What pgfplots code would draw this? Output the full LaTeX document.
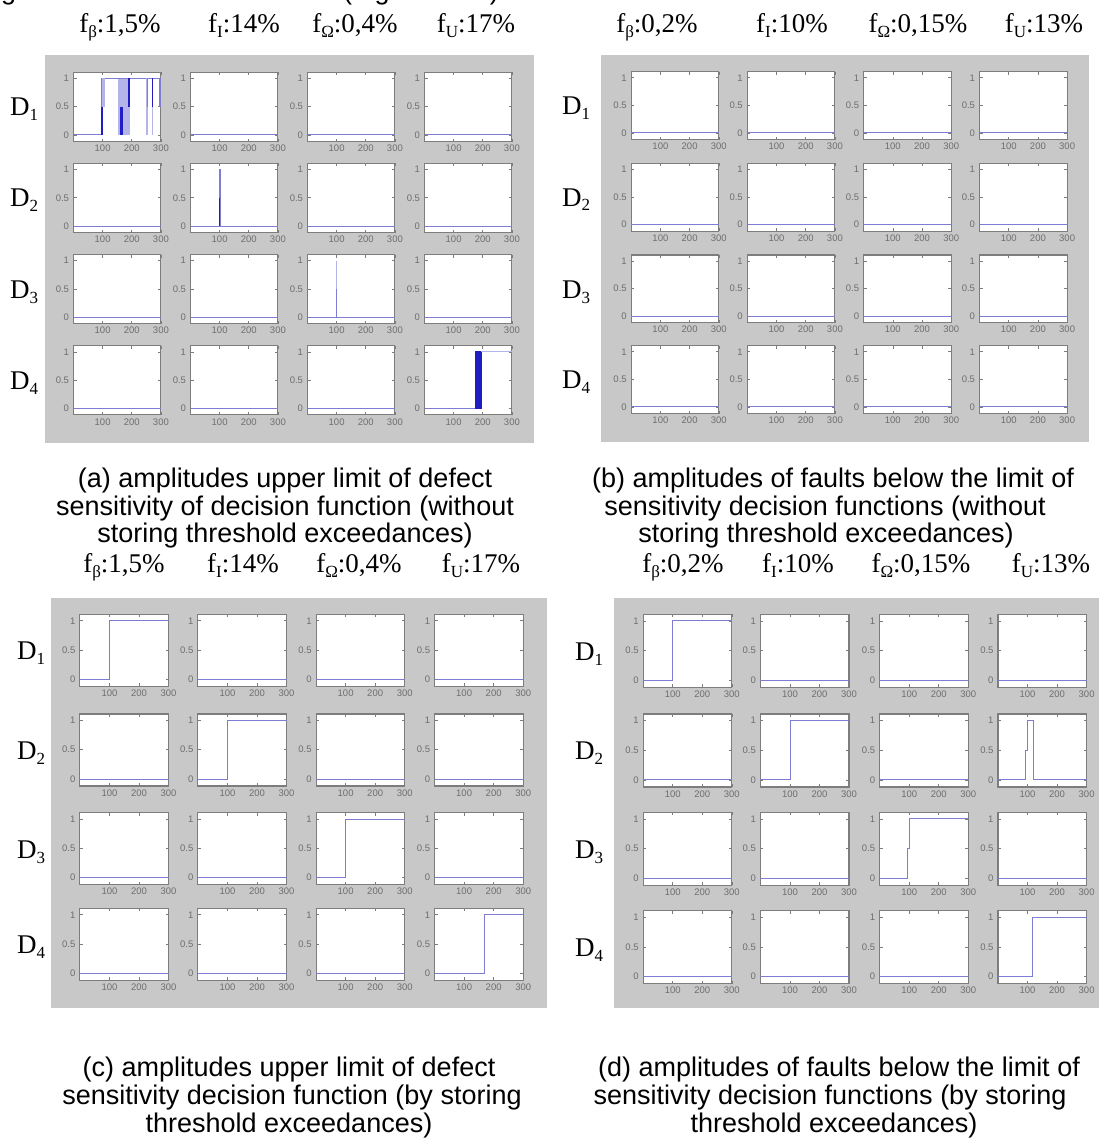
\documentclass[border=0pt]{standalone}
\usepackage{fontspec}
\setmainfont{Liberation Sans}
\newfontfamily\serif{Liberation Serif}
\usepackage{pgfplots}
\pgfplotsset{compat=1.18}

\definecolor{figgray}{RGB}{200,200,200}
\definecolor{frame}{RGB}{125,125,125}
\definecolor{ticklab}{RGB}{110,110,110}
\definecolor{sig}{RGB}{125,125,212}
\definecolor{sigl}{RGB}{180,180,232}
\definecolor{sigd}{RGB}{30,30,195}

\pgfplotsset{cellax/.style={anchor=north west, scale only axis,
  xmin=0, xmax=300, ymin=-0.12, ymax=1.11,
  xtick={100,200,300}, xticklabels={100,200,300},
  ytick={0,0.5,1}, yticklabels={0,0.5,1},
  tick align=inside, major tick length=3pt,
  axis line style={draw=frame, line width=1.1pt},
  every tick/.style={draw=frame, line width=0.6pt},
  tick label style={font=\fontsize{9.5}{9.5}\selectfont, text=ticklab},
  xticklabel style={yshift=0pt}, yticklabel style={xshift=-1pt},
  axis background/.style={fill=white},
  unbounded coords=jump}}

\newcommand\cell[5]{\begin{axis}[cellax, at={(#1pt,-#2pt)}, width=#3pt, height=#4pt]#5\end{axis}}
\newcommand\ca[3]{\cell{#1}{#2}{87.4}{69.3}{#3}}
\newcommand\cb[3]{\cell{#1}{#2}{87.6}{67.8}{#3}}
\newcommand\cc[3]{\cell{#1}{#2}{88.6}{72}{#3}}
\newcommand\cd[3]{\cell{#1}{#2}{88.6}{73}{#3}}
\newcommand\zero{\addplot[sig, line width=0.8pt] coordinates {(0,0)(300,0)};}
\newcommand\fs[1]{\raisebox{-5pt}{\fontsize{17}{17}\selectfont #1}}
\newcommand\dl[1]{D\raisebox{-5pt}{\fontsize{17}{17}\selectfont #1}}
\tikzset{flab/.style={anchor=base, font=\serif\fontsize{27}{27}\selectfont},
  dlab/.style={anchor=base west, inner sep=0pt, font=\serif\fontsize{27}{27}\selectfont},
  captxt/.style={anchor=base, font=\fontsize{27}{27}\selectfont}}

\begin{document}
\begin{tikzpicture}
\useasboundingbox (0pt,0pt) rectangle (1099pt,-1142pt);
\clip (0pt,0pt) rectangle (1099pt,-1142pt);
\fill[white] (0pt,0pt) rectangle (1099pt,-1142pt);

% cut-off line of text above the figure
\node[anchor=base west, font=\fontsize{27}{27}\selectfont, inner sep=0pt] at (1pt,0.7pt) {g};
\node[anchor=base west, font=\fontsize{27}{27}\selectfont, inner sep=0pt] at (343pt,0.7pt) {(Fig. 10 a–d)};

% panel backgrounds
\fill[figgray] (45pt,-55pt) rectangle (534pt,-443pt);
\fill[figgray] (601pt,-55pt) rectangle (1089pt,-442pt);
\fill[figgray] (51pt,-598pt) rectangle (547pt,-1008pt);
\fill[figgray] (614pt,-598pt) rectangle (1099pt,-1008pt);

% column headers
\node[flab] at (120pt,-33pt) {f\fs{β}:1,5\%};
\node[flab] at (244pt,-33pt) {f\fs{I}:14\%};
\node[flab] at (355pt,-33pt) {f\fs{Ω}:0,4\%};
\node[flab] at (476pt,-33pt) {f\fs{U}:17\%};
\node[flab] at (657pt,-33pt) {f\fs{β}:0,2\%};
\node[flab] at (792pt,-33pt) {f\fs{I}:10\%};
\node[flab] at (918pt,-33pt) {f\fs{Ω}:0,15\%};
\node[flab] at (1044pt,-33pt) {f\fs{U}:13\%};
\node[flab] at (124pt,-572pt) {f\fs{β}:1,5\%};
\node[flab] at (243pt,-572pt) {f\fs{I}:14\%};
\node[flab] at (359pt,-572pt) {f\fs{Ω}:0,4\%};
\node[flab] at (481pt,-572pt) {f\fs{U}:17\%};
\node[flab] at (683pt,-572pt) {f\fs{β}:0,2\%};
\node[flab] at (798pt,-572pt) {f\fs{I}:10\%};
\node[flab] at (921pt,-572pt) {f\fs{Ω}:0,15\%};
\node[flab] at (1051pt,-572pt) {f\fs{U}:13\%};

% row labels
\node[dlab] at (10pt,-116pt) {\dl{1}};
\node[dlab] at (10pt,-207pt) {\dl{2}};
\node[dlab] at (10pt,-298pt) {\dl{3}};
\node[dlab] at (10pt,-389pt) {\dl{4}};
\node[dlab] at (562pt,-114.5pt) {\dl{1}};
\node[dlab] at (562pt,-206pt) {\dl{2}};
\node[dlab] at (562pt,-298pt) {\dl{3}};
\node[dlab] at (562pt,-388.5pt) {\dl{4}};
\node[dlab] at (17pt,-659pt) {\dl{1}};
\node[dlab] at (17pt,-759pt) {\dl{2}};
\node[dlab] at (17pt,-858pt) {\dl{3}};
\node[dlab] at (17pt,-953pt) {\dl{4}};
\node[dlab] at (575pt,-660pt) {\dl{1}};
\node[dlab] at (575pt,-759.5pt) {\dl{2}};
\node[dlab] at (575pt,-858pt) {\dl{3}};
\node[dlab] at (575pt,-956pt) {\dl{4}};

% ---------------- panel (a)
\ca{73.5}{72.3}{%
  \addplot[fill=sigl, draw=none] coordinates {(154,1)(194,1)} \closedcycle;
  \addplot[sig, line width=0.8pt] coordinates {(0,0)(97,0)(97,1)(300,1)(300,0.5)};
  \addplot[sigl, line width=3pt] coordinates {(102,0.5)(102,1)};
  \addplot[sigd, line width=2pt] coordinates {(99,0)(99,0.5)};
  \addplot[sigd, line width=3pt] coordinates {(165,0)(165,0.5)};
  \addplot[sigd, line width=2pt] coordinates {(190,0.5)(190,1)};
  \addplot[sigl, line width=1.5pt] coordinates {(253,0)(253,1)};
  \addplot[sig, line width=1.2pt] coordinates {(253,0.5)(253,1)};
  \addplot[sigl, line width=1.5pt] coordinates {(272,0)(272,0.5)};
  \addplot[sigd, line width=1.5pt] coordinates {(272,0.5)(272,1)};
  \addplot[sig, line width=1.5pt] coordinates {(297,0.5)(297,1)};}
\ca{190.5}{72.3}{\zero}
\ca{307.5}{72.3}{\zero}
\ca{424.5}{72.3}{\zero}
\ca{73.5}{163.4}{\zero}
\ca{190.5}{163.4}{%
  \addplot[sig, line width=0.8pt] coordinates {(0,0)(99,0)(99,1)(101,1)(101,0)(300,0)};
  \addplot[sigd, line width=1.4pt] coordinates {(100,0)(100,0.5)};}
\ca{307.5}{163.4}{\zero}
\ca{424.5}{163.4}{\zero}
\ca{73.5}{254.5}{\zero}
\ca{190.5}{254.5}{\zero}
\ca{307.5}{254.5}{%
  \addplot[sig, line width=0.8pt] coordinates {(0,0)(300,0)};
  \addplot[sigl, line width=1.4pt] coordinates {(100,0)(100,1)};
  \addplot[sig, line width=1.2pt] coordinates {(100,0)(100,0.5)};}
\ca{424.5}{254.5}{\zero}
\ca{73.5}{345.6}{\zero}
\ca{190.5}{345.6}{\zero}
\ca{307.5}{345.6}{\zero}
\ca{424.5}{345.6}{%
  \addplot[sig, line width=0.8pt] coordinates {(0,0)(173,0)};
  \addplot[fill=sigd, draw=sigd, line width=1pt] coordinates {(174,1)(195,1)} \closedcycle;
  \addplot[sigl, line width=1pt] coordinates {(195,1)(300,1)};}

% ---------------- panel (b)
\cb{631.2}{71.7}{\zero}
\cb{747.3}{71.7}{\zero}
\cb{863.6}{71.7}{\zero}
\cb{979.5}{71.7}{\zero}
\cb{631.2}{163.3}{\zero}
\cb{747.3}{163.3}{\zero}
\cb{863.6}{163.3}{\zero}
\cb{979.5}{163.3}{\zero}
\cb{631.2}{255}{\zero}
\cb{747.3}{255}{\zero}
\cb{863.6}{255}{\zero}
\cb{979.5}{255}{\zero}
\cb{631.2}{345.7}{\zero}
\cb{747.3}{345.7}{\zero}
\cb{863.6}{345.7}{\zero}
\cb{979.5}{345.7}{\zero}

% ---------------- panel (c)
\cc{79.9}{614.3}{\addplot[sig, line width=0.8pt] coordinates {(0,0)(100,0)(100,1)(300,1)};}
\cc{197.9}{614.3}{\zero}
\cc{316.1}{614.3}{\zero}
\cc{434.6}{614.3}{\zero}
\cc{79.9}{714}{\zero}
\cc{197.9}{714}{\addplot[sig, line width=0.8pt] coordinates {(0,0)(100,0)(100,1)(300,1)};}
\cc{316.1}{714}{\zero}
\cc{434.6}{714}{\zero}
\cc{79.9}{812.7}{\zero}
\cc{197.9}{812.7}{\zero}
\cc{316.1}{812.7}{\addplot[sig, line width=0.8pt] coordinates {(0,0)(100,0)(100,1)(300,1)};}
\cc{434.6}{812.7}{\zero}
\cc{79.9}{908.3}{\zero}
\cc{197.9}{908.3}{\zero}
\cc{316.1}{908.3}{\zero}
\cc{434.6}{908.3}{\addplot[sig, line width=0.8pt] coordinates {(0,0)(167,0)(167,1)(300,1)};}

% ---------------- panel (d)
\cd{643.2}{614.3}{\addplot[sig, line width=0.8pt] coordinates {(0,0)(100,0)(100,1)(300,1)};}
\cd{760.4}{614.3}{\zero}
\cd{879.7}{614.3}{\zero}
\cd{998}{614.3}{\zero}
\cd{643.2}{714}{\zero}
\cd{760.4}{714}{\addplot[sig, line width=0.8pt] coordinates {(0,0)(101,0)(101,1)(300,1)};}
\cd{879.7}{714}{\zero}
\cd{998}{714}{\addplot[sig, line width=0.8pt] coordinates {(0,0)(94,0)(94,0.5)(98,0.5)(98,1)(121,1)(121,0)(300,0)};}
\cd{643.2}{812.3}{\zero}
\cd{760.4}{812.3}{\zero}
\cd{879.7}{812.3}{\addplot[sig, line width=0.8pt] coordinates {(0,0)(95,0)(95,0.5)(99,0.5)(99,1)(300,1)};}
\cd{998}{812.3}{\zero}
\cd{643.2}{910.7}{\zero}
\cd{760.4}{910.7}{\zero}
\cd{879.7}{910.7}{\zero}
\cd{998}{910.7}{\addplot[sig, line width=0.8pt] coordinates {(0,0)(117,0)(117,1)(300,1)};}

% captions
\node[captxt] at (285pt,-487pt) {(a) amplitudes upper limit of defect};
\node[captxt] at (285pt,-515pt) {sensitivity of decision function (without};
\node[captxt] at (285pt,-542pt) {storing threshold exceedances)};
\node[captxt] at (833pt,-487pt) {(b) amplitudes of faults below the limit of};
\node[captxt] at (825pt,-515pt) {sensitivity decision functions (without};
\node[captxt] at (826pt,-542pt) {storing threshold exceedances)};
\node[captxt] at (289pt,-1076pt) {(c) amplitudes upper limit of defect};
\node[captxt] at (292pt,-1104pt) {sensitivity decision function (by storing};
\node[captxt] at (289pt,-1132pt) {threshold exceedances)};
\node[captxt] at (839pt,-1076pt) {(d) amplitudes of faults below the limit of};
\node[captxt] at (830pt,-1104pt) {sensitivity decision functions (by storing};
\node[captxt] at (834pt,-1132pt) {threshold exceedances)};
\end{tikzpicture}
\end{document}
